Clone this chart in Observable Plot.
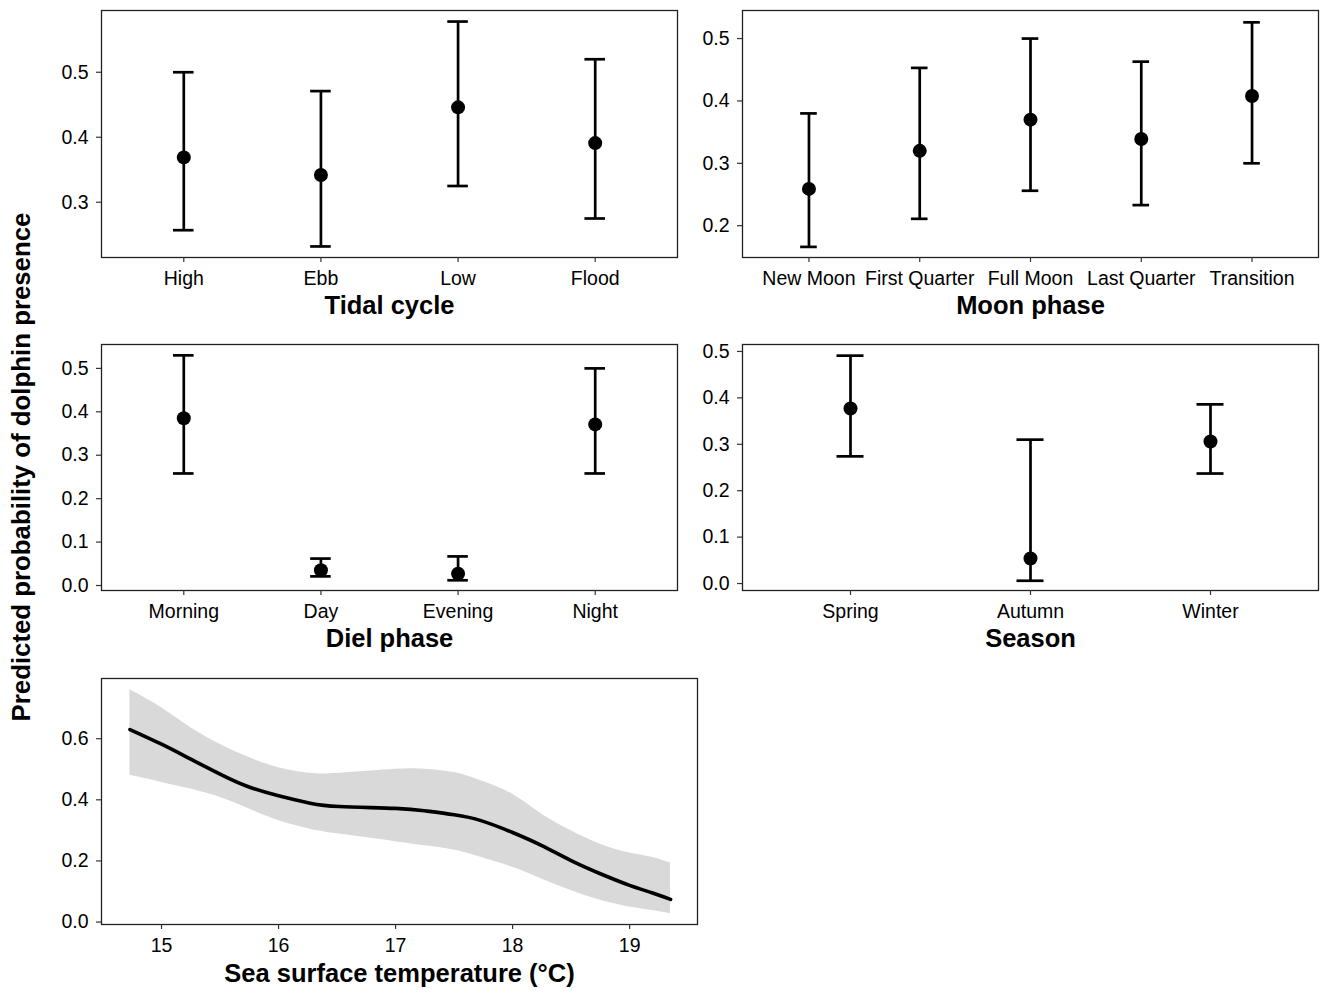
<!DOCTYPE html>
<html>
<head>
<meta charset="utf-8">
<script src="https://cdn.jsdelivr.net/npm/d3@7"></script>
<script src="https://cdn.jsdelivr.net/npm/@observablehq/plot@0.6"></script>
<style>
  html, body { margin: 0; padding: 0; background: white; }
  #wrap { position: relative; width: 1328px; height: 996px; background: white; overflow: hidden; }
  .panel { position: absolute; }
  #ytitle { position: absolute; left: 21px; top: 467px; transform: translate(-50%, -50%) rotate(-90deg);
    white-space: nowrap; font: bold 25.8px "Liberation Sans", Arial, sans-serif; color: #000; }
</style>
</head>
<body>
<div id="wrap"></div>
<script>
// ---- Data ----
const tidalCats = ["High", "Ebb", "Low", "Flood"];
const tidalEst  = [0.369, 0.342, 0.446, 0.391];
const tidalLo   = [0.257, 0.232, 0.325, 0.275];
const tidalHi   = [0.500, 0.471, 0.578, 0.520];

const moonCats = ["New Moon", "First Quarter", "Full Moon", "Last Quarter", "Transition"];
const moonEst  = [0.259, 0.320, 0.370, 0.339, 0.408];
const moonLo   = [0.166, 0.211, 0.256, 0.233, 0.300];
const moonHi   = [0.380, 0.453, 0.500, 0.463, 0.526];

const dielCats = ["Morning", "Day", "Evening", "Night"];
const dielEst  = [0.385, 0.035, 0.027, 0.371];
const dielLo   = [0.258, 0.021, 0.012, 0.258];
const dielHi   = [0.530, 0.062, 0.067, 0.500];

const seasonCats = ["Spring", "Autumn", "Winter"];
const seasonEst  = [0.377, 0.054, 0.306];
const seasonLo   = [0.274, 0.006, 0.237];
const seasonHi   = [0.491, 0.310, 0.386];

const sstTemp  = [14.73, 15.0, 15.25, 15.5, 15.72, 16.0, 16.27, 16.52, 17.0, 17.25, 17.5, 17.73, 18.0, 18.25, 18.5, 18.75, 19.0, 19.19, 19.35];
const sstFit   = [0.630, 0.582, 0.533, 0.484, 0.446, 0.413, 0.389, 0.378, 0.372, 0.364, 0.351, 0.332, 0.293, 0.250, 0.201, 0.158, 0.120, 0.096, 0.074];
const sstUpper = [0.760, 0.701, 0.636, 0.582, 0.543, 0.505, 0.487, 0.487, 0.500, 0.500, 0.489, 0.462, 0.418, 0.353, 0.299, 0.255, 0.226, 0.212, 0.193];
const sstLower = [0.480, 0.457, 0.435, 0.408, 0.375, 0.332, 0.304, 0.288, 0.263, 0.250, 0.236, 0.212, 0.179, 0.141, 0.103, 0.071, 0.049, 0.038, 0.027];

const yTitle = "Predicted probability of dolphin presence";

// ---- Helpers ----
const wrap = document.getElementById("wrap");
const FONT = '"Liberation Sans", Arial, sans-serif';
function place(svg, left, top) {
  const d = document.createElement("div");
  d.className = "panel";
  d.style.left = left + "px";
  d.style.top = top + "px";
  d.appendChild(svg);
  wrap.appendChild(d);
}
const baseStyle = {fontFamily: FONT, fontSize: "19.5px", color: "#000", background: "transparent", overflow: "visible"};

function catPanel({cats, est, lo, hi, title, yDomain, yTicks, width, height, margin}) {
  const rows = cats.map((c, i) => ({cat: c, est: est[i], lo: lo[i], hi: hi[i]}));
  return Plot.plot({
    width, height,
    marginLeft: margin[0], marginRight: margin[1], marginTop: margin[2], marginBottom: margin[3],
    style: baseStyle,
    x: {type: "band", domain: cats, paddingInner: 0.85, paddingOuter: 0.525, align: 0.5, round: false},
    y: {domain: yDomain},
    marks: [
      Plot.ruleX(rows, {x: "cat", y1: "lo", y2: "hi", stroke: "#000", strokeWidth: 2.7}),
      Plot.tickY(rows, {x: "cat", y: "lo", stroke: "#000", strokeWidth: 2.7}),
      Plot.tickY(rows, {x: "cat", y: "hi", stroke: "#000", strokeWidth: 2.7}),
      Plot.dot(rows, {x: "cat", y: "est", r: 7, fill: "#000", stroke: "none"}),
      Plot.frame({stroke: "#222", strokeWidth: 1.3}),
      Plot.axisX({tickSize: 5, tickPadding: 9, label: null, stroke: "#333", strokeWidth: 1.2, fill: "#000"}),
      Plot.axisY({ticks: yTicks, tickFormat: d3.format(".1f"), tickSize: 5, tickPadding: 8, label: null, stroke: "#333", strokeWidth: 1.2, fill: "#000"}),
      Plot.text([title], {frameAnchor: "bottom", text: d => d, dy: 48, lineAnchor: "middle", fontSize: 25.5, fontWeight: "bold", fill: "#000"})
    ]
  });
}

// ---- Panels ----
place(catPanel({cats: tidalCats, est: tidalEst, lo: tidalLo, hi: tidalHi, title: "Tidal cycle",
  yDomain: [0.215, 0.595], yTicks: [0.3, 0.4, 0.5], width: 690, height: 330, margin: [101, 13, 10, 73]}), 0, 0);

place(catPanel({cats: moonCats, est: moonEst, lo: moonLo, hi: moonHi, title: "Moon phase",
  yDomain: [0.149, 0.545], yTicks: [0.2, 0.3, 0.4, 0.5], width: 638, height: 330, margin: [52, 10, 10, 73]}), 690, 0);

place(catPanel({cats: dielCats, est: dielEst, lo: dielLo, hi: dielHi, title: "Diel phase",
  yDomain: [-0.0115, 0.555], yTicks: [0, 0.1, 0.2, 0.3, 0.4, 0.5], width: 690, height: 330, margin: [101, 13, 14, 70]}), 0, 330);

place(catPanel({cats: seasonCats, est: seasonEst, lo: seasonLo, hi: seasonHi, title: "Season",
  yDomain: [-0.015, 0.515], yTicks: [0, 0.1, 0.2, 0.3, 0.4, 0.5], width: 638, height: 330, margin: [52, 10, 14, 70]}), 690, 330);

const sst = sstTemp.map((t, i) => ({t, fit: sstFit[i], hi: sstUpper[i], lo: sstLower[i]}));
place(Plot.plot({
  width: 720, height: 336,
  marginLeft: 101, marginRight: 23, marginTop: 18, marginBottom: 72,
  style: baseStyle,
  x: {domain: [14.487, 19.58]},
  y: {domain: [-0.008, 0.797]},
  marks: [
    Plot.areaY(sst, {x: "t", y1: "lo", y2: "hi", fill: "#d9d9d9", curve: "natural"}),
    Plot.line(sst, {x: "t", y: "fit", stroke: "#000", strokeWidth: 3.6, curve: "natural"}),
    Plot.frame({stroke: "#222", strokeWidth: 1.3}),
    Plot.axisX({ticks: [15, 16, 17, 18, 19], tickFormat: d3.format("d"), tickSize: 5, tickPadding: 9, label: null, stroke: "#333", strokeWidth: 1.2, fill: "#000"}),
    Plot.axisY({ticks: [0, 0.2, 0.4, 0.6], tickFormat: d3.format(".1f"), tickSize: 5, tickPadding: 8, label: null, stroke: "#333", strokeWidth: 1.2, fill: "#000"}),
    Plot.text(["Sea surface temperature (°C)"], {frameAnchor: "bottom", text: d => d, dy: 49, lineAnchor: "middle", fontSize: 25.5, fontWeight: "bold", fill: "#000"})
  ]
}), 0, 660);

const yt = document.createElement("div");
yt.id = "ytitle";
yt.textContent = yTitle;
wrap.appendChild(yt);
</script>
</body>
</html>
